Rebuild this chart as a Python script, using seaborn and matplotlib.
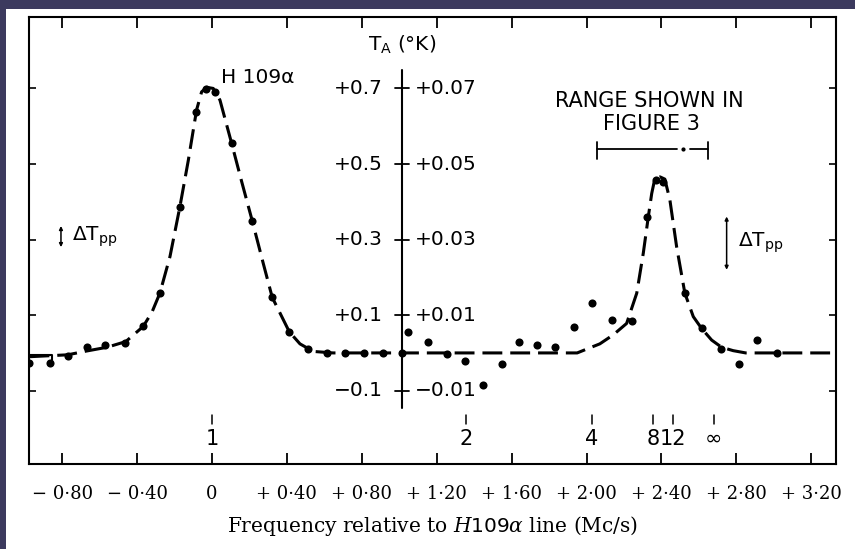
import matplotlib
matplotlib.use("Agg")
import matplotlib.pyplot as plt
import seaborn as sns
import pandas as pd
from matplotlib.patches import Rectangle

# ---------------- data (left-scale units, K) ----------------
freq_obs = [-0.975, -0.865, -0.767, -0.669, -0.571, -0.464, -0.367, -0.278, -0.171, -0.087,
            -0.032, 0.016, 0.105, 0.215, 0.322, 0.413, 0.514, 0.612, 0.710, 0.813,
            0.911, 1.013, 1.048, 1.152, 1.253, 1.351, 1.449, 1.550, 1.639, 1.737,
            1.831, 1.933, 2.030, 2.134, 2.241, 2.324, 2.371, 2.410, 2.525, 2.614,
            2.718, 2.815, 2.911, 3.015]
temp_obs = [-0.026, -0.026, -0.008, 0.017, 0.021, 0.026, 0.070, 0.158, 0.387, 0.638,
            0.698, 0.691, 0.555, 0.350, 0.147, 0.056, 0.010, -0.001, 0.0, 0.0,
            0.0, 0.0, 0.056, 0.030, -0.003, -0.021, -0.085, -0.030, 0.030, 0.021,
            0.015, 0.068, 0.133, 0.087, 0.085, 0.361, 0.458, 0.453, 0.158, 0.065,
            0.011, -0.029, 0.033, 0.0]

fit_freq = [-0.974, -0.77, -0.67, -0.56, -0.46, -0.367, -0.32, -0.278, -0.224, -0.171,
            -0.126, -0.082, -0.055, -0.028, 0.007, 0.043, 0.105, 0.159, 0.215, 0.274,
            0.322, 0.413, 0.470, 0.541, 0.646, 1.95, 2.0, 2.071, 2.143, 2.214,
            2.268, 2.303, 2.330, 2.348, 2.365, 2.392, 2.418, 2.445, 2.481, 2.525,
            2.570, 2.614, 2.668, 2.721, 2.783, 2.85, 3.332]
fit_temp = [-0.010, -0.005, 0.005, 0.015, 0.030, 0.070, 0.108, 0.158, 0.255, 0.387,
            0.510, 0.643, 0.691, 0.703, 0.700, 0.669, 0.555, 0.453, 0.350, 0.237,
            0.147, 0.056, 0.024, 0.004, 0.0, 0.0, 0.010, 0.024, 0.048, 0.078,
            0.158, 0.264, 0.361, 0.422, 0.462, 0.466, 0.460, 0.405, 0.281, 0.158,
            0.096, 0.065, 0.034, 0.015, 0.006, 0.0, 0.0]

x_ticks = [-0.8, -0.4, 0.0, 0.4, 0.8, 1.2, 1.6, 2.0, 2.4, 2.8, 3.2]
x_tick_labels = ["− 0·80", "− 0·40", "0", "+ 0·40", "+ 0·80", "+ 1·20",
                 "+ 1·60", "+ 2·00", "+ 2·40", "+ 2·80", "+ 3·20"]
y_ticks = [-0.1, 0.1, 0.3, 0.5, 0.7]
y_left_labels = ["−0.1", "+0.1", "+0.3", "+0.5", "+0.7"]
y_right_labels = ["−0.01", "+0.01", "+0.03", "+0.05", "+0.07"]

n_labels = ["1", "2", "4", "8", "12", "∞"]
n_freq = [0.0, 1.356, 2.029, 2.355, 2.461, 2.68]

range_fig3 = [2.056, 2.481, 2.516, 2.552, 2.647]   # start, solid end, dot, dash start, end
range_level = 0.539

dtpp_freq = [-0.806, 2.748]
dtpp_lo = [0.280, 0.220]
dtpp_hi = [0.336, 0.361]

center_axis_freq = 1.015
center_axis_span = [-0.146, 0.749]

x_lim = [-0.974, 3.332]
y_lim = [-0.294, 0.889]

# ---------------- styling ----------------
sns.set_style("white")
plt.rcParams["font.family"] = ["DejaVu Sans"]
plt.rcParams["text.color"] = "black"
plt.rcParams["axes.labelcolor"] = "black"
plt.rcParams["xtick.color"] = "black"
plt.rcParams["ytick.color"] = "black"
plt.rcParams["mathtext.fontset"] = "custom"
plt.rcParams["mathtext.rm"] = "DejaVu Sans"
plt.rcParams["mathtext.it"] = "DejaVu Serif:italic"
plt.rcParams["mathtext.bf"] = "DejaVu Sans:bold"

BORDER = "#3c3a5e"
SANS = 14.5

fig = plt.figure(figsize=(8.55, 5.49), dpi=100, facecolor=BORDER)
fig.patches.append(Rectangle((6 / 855, 0), 1, 540 / 549, transform=fig.transFigure,
                             facecolor="white", edgecolor="none", zorder=-10))
ax = fig.add_axes([0.0345, 0.1548, 0.9433, 0.8142])
ax.set_zorder(5)
ax.set_facecolor("white")

obs = pd.DataFrame({"freq": freq_obs, "temp": temp_obs})
fit = pd.DataFrame({"freq": fit_freq, "temp": fit_temp})

sns.lineplot(data=fit, x="freq", y="temp", ax=ax, color="black", lw=2.2, sort=False)
ax.lines[-1].set_dashes([6.5, 2.6])
sns.scatterplot(data=obs, x="freq", y="temp", ax=ax, color="black", s=34,
                edgecolor="black", linewidth=0, zorder=5)

ax.set_xlim(x_lim)
ax.set_ylim(y_lim)

for sp in ax.spines.values():
    sp.set_visible(True)
    sp.set_color("black")
    sp.set_linewidth(1.5)

ax.set_xticks(x_ticks)
ax.set_xticklabels(x_tick_labels, fontfamily="DejaVu Serif", fontsize=13, color="black")
ax.tick_params(axis="x", direction="in", length=8, width=1.3, top=True,
               bottom=True, pad=15, colors="black")
ax.set_yticks(y_ticks)
ax.tick_params(axis="y", direction="in", length=5, width=1.2, left=True,
               right=True, labelleft=False)
ax.set_xlabel(r"Frequency relative to $\mathit{H109\alpha}$ line (Mc/s)",
              fontfamily="DejaVu Serif", fontsize=14.5, labelpad=8, color="black")
ax.set_ylabel("")

# central temperature axis
ax.plot([center_axis_freq, center_axis_freq], center_axis_span, color="black", lw=1.5)
for yv, ll, rl in zip(y_ticks, y_left_labels, y_right_labels):
    ax.plot([center_axis_freq - 0.037, center_axis_freq + 0.037], [yv, yv],
            color="black", lw=1.3)
    ax.annotate(ll, xy=(center_axis_freq, yv), xytext=(-14, 0),
                textcoords="offset points", ha="right", va="center", fontsize=SANS)
    ax.annotate(rl, xy=(center_axis_freq, yv), xytext=(9, 0),
                textcoords="offset points", ha="left", va="center", fontsize=SANS)
ax.text(center_axis_freq, 0.815, r"T$_{\mathrm{A}}$ (°K)", ha="center", va="center",
        fontsize=SANS)

# baseline marker at left edge
ax.plot([x_lim[0], -0.855, -0.855], [-0.005, -0.005, -0.02], color="black", lw=1.5)

# line label
ax.text(0.246, 0.730, "H 109α", ha="center", va="center", fontsize=SANS)

# range shown in figure 3
ax.text(2.336, 0.666, "RANGE SHOWN IN", ha="center", va="center", fontsize=15)
ax.text(2.349, 0.607, "FIGURE 3", ha="center", va="center", fontsize=15)
ax.plot(range_fig3[0:2], [range_level, range_level], color="black", lw=1.3)
ax.plot([range_fig3[2]], [range_level], marker="o", ms=2, color="black")
ax.plot(range_fig3[3:5], [range_level, range_level], color="black", lw=1.3)
for xe in (range_fig3[0], range_fig3[4]):
    ax.plot([xe, xe], [range_level - 0.026, range_level + 0.018], color="black", lw=1.3)

# delta T_pp markers
for xf, lo, hi in zip(dtpp_freq, dtpp_lo, dtpp_hi):
    ax.annotate("", xy=(xf, hi), xytext=(xf, lo),
                arrowprops=dict(arrowstyle="<|-|>", lw=1.1, color="black",
                                mutation_scale=5, shrinkA=0, shrinkB=0))
    ax.annotate(r"ΔT$_{\mathrm{pp}}$", xy=(xf, (lo + hi) / 2), xytext=(8, 0),
                textcoords="offset points", ha="left", va="center", fontsize=SANS)

# n-scale markers
for lab, xf in zip(n_labels, n_freq):
    ax.plot([xf, xf], [-0.164, -0.188], color="black", lw=1.1)
    ax.text(xf, -0.228, lab, ha="center", va="center", fontsize=15)

fig.savefig("out.png", dpi=100, facecolor=BORDER)
